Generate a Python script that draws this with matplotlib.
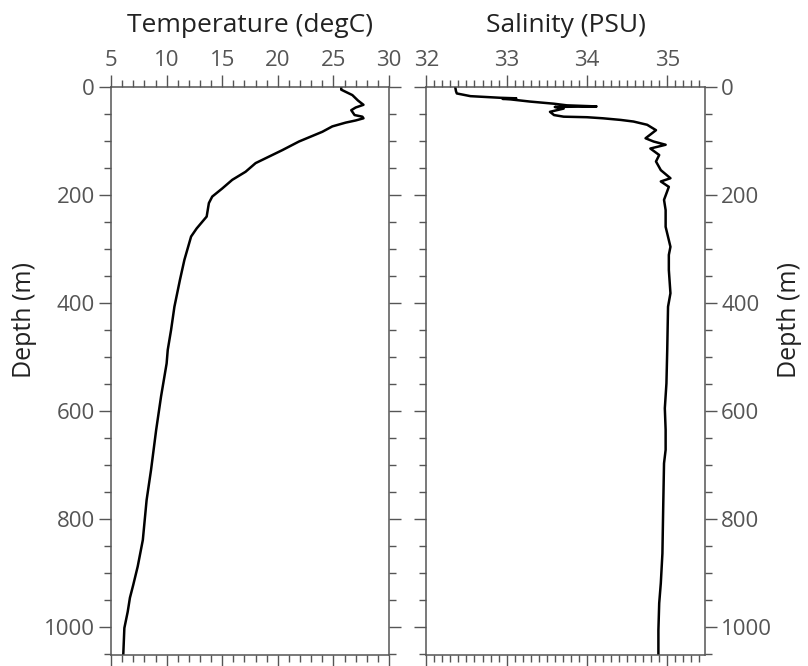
import numpy as np
import matplotlib
matplotlib.use("Agg")
from matplotlib import pyplot as plt
from matplotlib.ticker import MultipleLocator

# temperature profile (degC) vs depth (m)
temp_depth = [0, 5, 10, 15, 25, 33, 38, 43, 52, 55, 58, 62, 66, 73, 83, 101,
              117, 129, 141, 157, 172, 188, 203, 215, 240, 262, 277, 320,
              357, 407, 450, 487, 512, 573, 635, 709, 765, 839, 888, 922,
              946, 972, 1002, 1052]
temp = [25.7, 25.7, 26.2, 26.7, 27.2, 27.7, 27.0, 26.6, 26.9, 27.6, 27.7,
        27.0, 26.1, 24.9, 24.0, 21.9, 20.4, 19.2, 18.0, 17.1, 15.9, 15.0,
        14.1, 13.8, 13.6, 12.7, 12.2, 11.6, 11.2, 10.7, 10.4, 10.1, 10.0,
        9.5, 9.06, 8.6, 8.2, 7.86, 7.4, 7.0, 6.7, 6.5, 6.2, 6.1]

# salinity profile (PSU) vs depth (m)
sal_depth = [0, 8, 12, 17, 20, 21, 22, 23, 27, 31, 34, 36, 37, 40, 46, 52,
             55, 56, 58, 61, 64, 70, 80, 95, 101, 107, 114, 126, 138, 154,
             169, 175, 185, 209, 228, 246, 259, 296, 311, 339, 382, 407,
             487, 549, 595, 635, 672, 697, 777, 864, 919, 956, 1006, 1052]
sal = [32.36, 32.37, 32.38, 32.55, 32.92, 33.12, 32.95, 33.05, 33.29, 33.59,
       33.75, 34.12, 33.6, 33.71, 33.54, 33.59, 33.71, 34.0, 34.2, 34.42,
       34.58, 34.75, 34.86, 34.73, 34.83, 34.98, 34.79, 34.9, 34.86, 34.92,
       35.04, 34.92, 35.02, 34.96, 34.98, 34.98, 34.98, 35.04, 35.02, 35.02,
       35.04, 35.01, 35.0, 34.99, 34.97, 34.98, 34.98, 34.96, 34.95, 34.94,
       34.92, 34.90, 34.89, 34.89]

plt.rcParams['font.family'] = ['Open Sans', 'DejaVu Sans']

fig = plt.figure(figsize=(8.08, 6.66), dpi=100)
ax1 = fig.add_axes([0.1374, 0.0165, 0.3441, 0.8529])
ax2 = fig.add_axes([0.5276, 0.0165, 0.3449, 0.8529])

ax1.plot(temp, temp_depth, color='black', lw=1.8)
ax2.plot(sal, sal_depth, color='black', lw=1.8)

ax1.set_xlim(5, 30)
ax2.set_xlim(32, 35.47)
for ax in (ax1, ax2):
    ax.set_ylim(1052, 0)
    ax.yaxis.set_major_locator(MultipleLocator(200))
    ax.yaxis.set_minor_locator(MultipleLocator(50))
    ax.tick_params(which='both', direction='out', top=True, bottom=True,
                   left=True, right=True, labeltop=True, labelbottom=False,
                   colors='#555555', labelsize=16, width=1.0, pad=3)
    ax.tick_params(which='major', length=8.6)
    ax.tick_params(which='minor', length=5)
    ax.xaxis.set_label_position('top')
    for s in ax.spines.values():
        s.set_color('#555555')
        s.set_linewidth(1.1)

ax1.xaxis.set_major_locator(MultipleLocator(5))
ax1.xaxis.set_minor_locator(MultipleLocator(1))
ax2.xaxis.set_major_locator(MultipleLocator(1))
ax2.xaxis.set_minor_locator(MultipleLocator(0.1))

ax1.tick_params(labelleft=True, labelright=False)
ax2.tick_params(labelleft=False, labelright=True)
ax2.yaxis.set_label_position('right')

ax1.set_xlabel('Temperature (degC)', fontsize=19, color='#222222', labelpad=13)
ax2.set_xlabel('Salinity (PSU)', fontsize=19, color='#222222', labelpad=13)
ax1.set_ylabel('Depth (m)', fontsize=18, color='#222222')
ax2.set_ylabel('Depth (m)', fontsize=18, color='#222222')
ax1.yaxis.set_label_coords(-0.265, 0.59)
ax2.yaxis.set_label_coords(1.26, 0.59)

fig.savefig('out.png', dpi=100)
